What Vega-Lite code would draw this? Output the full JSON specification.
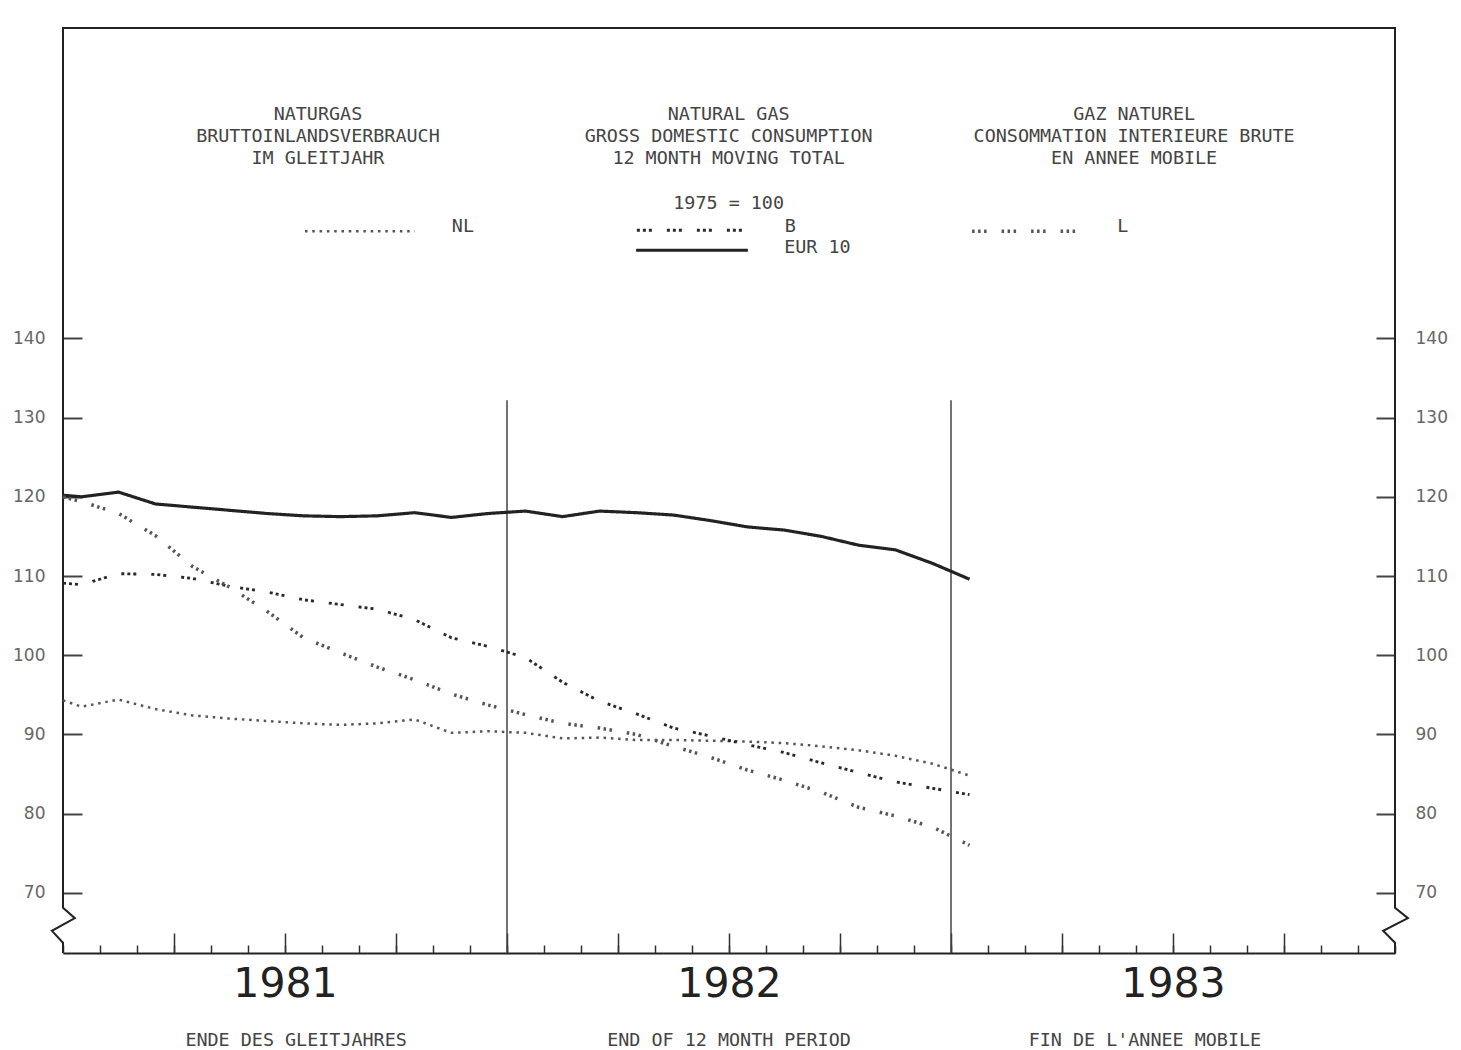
{
  "$schema": "https://vega.github.io/schema/vega-lite/v6.json",
  "width": 1332,
  "height": 925,
  "autosize": {"type": "none"},
  "padding": {"left": 63, "top": 28, "right": 66, "bottom": 97},
  "background": "white",
  "config": {"view": {"stroke": null}, "axis": {"grid": false}},
  "datasets": {
    "frame": [
      {"i": 0, "m": 0, "v": 62.4}, {"i": 1, "m": 0, "v": 63.7}, {"i": 2, "m": -0.3, "v": 65.2},
      {"i": 3, "m": 0.32, "v": 66.8}, {"i": 4, "m": 0, "v": 68.1}, {"i": 5, "m": 0, "v": 179.2},
      {"i": 6, "m": 36, "v": 179.2}, {"i": 7, "m": 36, "v": 68.1}, {"i": 8, "m": 36.35, "v": 66.8},
      {"i": 9, "m": 35.68, "v": 65.2}, {"i": 10, "m": 36, "v": 63.7}, {"i": 11, "m": 36, "v": 62.4}
    ],
    "separators": [{"m": 12}, {"m": 24}],
    "series": [
      {"s": "EUR 10", "m": 0, "v": 120.2}, {"s": "EUR 10", "m": 0.5, "v": 120.0}, {"s": "EUR 10", "m": 1.5, "v": 120.6},
      {"s": "EUR 10", "m": 2.5, "v": 119.1}, {"s": "EUR 10", "m": 3.5, "v": 118.7}, {"s": "EUR 10", "m": 4.5, "v": 118.3},
      {"s": "EUR 10", "m": 5.5, "v": 117.9}, {"s": "EUR 10", "m": 6.5, "v": 117.6}, {"s": "EUR 10", "m": 7.5, "v": 117.5},
      {"s": "EUR 10", "m": 8.5, "v": 117.6}, {"s": "EUR 10", "m": 9.5, "v": 118.0}, {"s": "EUR 10", "m": 10.5, "v": 117.4},
      {"s": "EUR 10", "m": 11.5, "v": 117.9}, {"s": "EUR 10", "m": 12.5, "v": 118.2}, {"s": "EUR 10", "m": 13.5, "v": 117.5},
      {"s": "EUR 10", "m": 14.5, "v": 118.2}, {"s": "EUR 10", "m": 15.5, "v": 118.0}, {"s": "EUR 10", "m": 16.5, "v": 117.7},
      {"s": "EUR 10", "m": 17.5, "v": 117.0}, {"s": "EUR 10", "m": 18.5, "v": 116.2}, {"s": "EUR 10", "m": 19.5, "v": 115.8},
      {"s": "EUR 10", "m": 20.5, "v": 115.0}, {"s": "EUR 10", "m": 21.5, "v": 113.9}, {"s": "EUR 10", "m": 22.5, "v": 113.3},
      {"s": "EUR 10", "m": 23.5, "v": 111.6}, {"s": "EUR 10", "m": 24.5, "v": 109.6},
      {"s": "NL", "m": 0, "v": 94.3}, {"s": "NL", "m": 0.5, "v": 93.5}, {"s": "NL", "m": 1.5, "v": 94.4},
      {"s": "NL", "m": 2.5, "v": 93.2}, {"s": "NL", "m": 3.5, "v": 92.4}, {"s": "NL", "m": 4.5, "v": 92.0},
      {"s": "NL", "m": 5.5, "v": 91.7}, {"s": "NL", "m": 6.5, "v": 91.4}, {"s": "NL", "m": 7.5, "v": 91.2},
      {"s": "NL", "m": 8.5, "v": 91.4}, {"s": "NL", "m": 9.5, "v": 91.9}, {"s": "NL", "m": 10.5, "v": 90.2},
      {"s": "NL", "m": 11.5, "v": 90.4}, {"s": "NL", "m": 12.5, "v": 90.2}, {"s": "NL", "m": 13.5, "v": 89.5},
      {"s": "NL", "m": 14.5, "v": 89.6}, {"s": "NL", "m": 15.5, "v": 89.3}, {"s": "NL", "m": 16.5, "v": 89.3},
      {"s": "NL", "m": 17.5, "v": 89.2}, {"s": "NL", "m": 18.5, "v": 89.1}, {"s": "NL", "m": 19.5, "v": 88.9},
      {"s": "NL", "m": 20.5, "v": 88.5}, {"s": "NL", "m": 21.5, "v": 88.0}, {"s": "NL", "m": 22.5, "v": 87.3},
      {"s": "NL", "m": 23.5, "v": 86.3}, {"s": "NL", "m": 24.5, "v": 84.8},
      {"s": "B", "m": 0, "v": 109.1}, {"s": "B", "m": 0.5, "v": 108.9}, {"s": "B", "m": 1.5, "v": 110.3},
      {"s": "B", "m": 2.5, "v": 110.2}, {"s": "B", "m": 3.5, "v": 109.7}, {"s": "B", "m": 4.5, "v": 108.7},
      {"s": "B", "m": 5.5, "v": 108.0}, {"s": "B", "m": 6.5, "v": 107.0}, {"s": "B", "m": 7.5, "v": 106.4},
      {"s": "B", "m": 8.5, "v": 105.8}, {"s": "B", "m": 9.5, "v": 104.5}, {"s": "B", "m": 10.5, "v": 102.2},
      {"s": "B", "m": 11.5, "v": 101.1}, {"s": "B", "m": 12.5, "v": 99.7}, {"s": "B", "m": 13.5, "v": 96.6},
      {"s": "B", "m": 14.5, "v": 94.2}, {"s": "B", "m": 15.5, "v": 92.6}, {"s": "B", "m": 16.5, "v": 90.8},
      {"s": "B", "m": 17.5, "v": 89.8}, {"s": "B", "m": 18.5, "v": 88.7}, {"s": "B", "m": 19.5, "v": 87.7},
      {"s": "B", "m": 20.5, "v": 86.4}, {"s": "B", "m": 21.5, "v": 85.2}, {"s": "B", "m": 22.5, "v": 84.0},
      {"s": "B", "m": 23.5, "v": 83.2}, {"s": "B", "m": 24.5, "v": 82.4},
      {"s": "L", "m": 0, "v": 120.0}, {"s": "L", "m": 0.5, "v": 119.4}, {"s": "L", "m": 1.5, "v": 117.9},
      {"s": "L", "m": 2.5, "v": 115.1}, {"s": "L", "m": 3.5, "v": 111.2}, {"s": "L", "m": 4.5, "v": 108.6},
      {"s": "L", "m": 5.5, "v": 105.6}, {"s": "L", "m": 6.5, "v": 102.2}, {"s": "L", "m": 7.5, "v": 100.3},
      {"s": "L", "m": 8.5, "v": 98.5}, {"s": "L", "m": 9.5, "v": 96.9}, {"s": "L", "m": 10.5, "v": 95.1},
      {"s": "L", "m": 11.5, "v": 93.7}, {"s": "L", "m": 12.5, "v": 92.5}, {"s": "L", "m": 13.5, "v": 91.4},
      {"s": "L", "m": 14.5, "v": 90.8}, {"s": "L", "m": 15.5, "v": 90.0}, {"s": "L", "m": 16.5, "v": 88.5},
      {"s": "L", "m": 17.5, "v": 87.1}, {"s": "L", "m": 18.5, "v": 85.5}, {"s": "L", "m": 19.5, "v": 84.2},
      {"s": "L", "m": 20.5, "v": 82.7}, {"s": "L", "m": 21.5, "v": 80.8}, {"s": "L", "m": 22.5, "v": 79.7},
      {"s": "L", "m": 23.5, "v": 78.3}, {"s": "L", "m": 24.5, "v": 76.0}
    ],
    "keysamples": [
      {"s": "NL", "m": 6.54, "v": 153.54}, {"s": "NL", "m": 9.51, "v": 153.54},
      {"s": "B", "m": 15.51, "v": 153.66}, {"s": "B", "m": 18.49, "v": 153.66},
      {"s": "EUR 10", "m": 15.49, "v": 151.14}, {"s": "EUR 10", "m": 18.51, "v": 151.14},
      {"s": "L", "m": 24.57, "v": 153.54}, {"s": "L", "m": 27.54, "v": 153.54}
    ],
    "keylabels": [
      {"t": "NL", "m": 10.51, "v": 154.17},
      {"t": "B", "m": 19.51, "v": 154.17},
      {"t": "EUR 10", "m": 19.49, "v": 151.52},
      {"t": "L", "m": 28.49, "v": 154.17}
    ],
    "titles": [
      {"t": "NATURGAS", "m": 6.89, "v": 168.3},
      {"t": "BRUTTOINLANDSVERBRAUCH", "m": 6.89, "v": 165.5},
      {"t": "IM GLEITJAHR", "m": 6.89, "v": 162.75},
      {"t": "NATURAL GAS", "m": 17.99, "v": 168.3},
      {"t": "GROSS DOMESTIC CONSUMPTION", "m": 17.99, "v": 165.5},
      {"t": "12 MONTH MOVING TOTAL", "m": 17.99, "v": 162.75},
      {"t": "1975 = 100", "m": 17.99, "v": 157.07},
      {"t": "GAZ NATUREL", "m": 28.95, "v": 168.3},
      {"t": "CONSOMMATION INTERIEURE BRUTE", "m": 28.95, "v": 165.5},
      {"t": "EN ANNEE MOBILE", "m": 28.95, "v": 162.75},
      {"t": "ENDE DES GLEITJAHRES", "m": 6.3, "v": 51.39},
      {"t": "END OF 12 MONTH PERIOD", "m": 18.0, "v": 51.39},
      {"t": "FIN DE L'ANNEE MOBILE", "m": 29.24, "v": 51.39}
    ]
  },
  "layer": [
    {
      "data": {"name": "frame"},
      "mark": {"type": "line", "stroke": "#222", "strokeWidth": 2, "clip": false},
      "encoding": {
        "x": {"field": "m", "type": "quantitative",
          "scale": {"domain": [0, 36], "nice": false, "zero": false},
          "axis": {"orient": "bottom", "values": [0,1,2,3,4,5,6,7,8,9,10,11,12,13,14,15,16,17,18,19,20,21,22,23,24,25,26,27,28,29,30,31,32,33,34,35,36],
            "tickSize": -8, "tickWidth": 1.5, "tickColor": "#333", "labels": false,
            "domain": true, "domainColor": "#222", "domainWidth": 2, "title": null, "grid": false}},
        "y": {"field": "v", "type": "quantitative",
          "scale": {"domain": [62.4, 179.2], "nice": false, "zero": false},
          "axis": {"orient": "left", "values": [70, 80, 90, 100, 110, 120, 130, 140],
            "tickSize": -19, "tickWidth": 2, "tickColor": "#444", "domain": false,
            "labelPadding": 37, "labelFont": "DejaVu Sans", "labelFontSize": 17, "labelColor": "#666",
            "title": null, "grid": false}},
        "order": {"field": "i", "type": "quantitative"}
      }
    },
    {
      "mark": {"type": "rule", "stroke": "#777", "strokeWidth": 1.5, "strokeDash": [4, 8]},
      "encoding": {
        "y": {"datum": 100, "type": "quantitative", "scale": {"domain": [62.4, 179.2], "nice": false, "zero": false}, "axis": null}
      }
    },
    {
      "data": {"name": "separators"},
      "mark": {"type": "rule", "stroke": "#444", "strokeWidth": 1.5},
      "encoding": {
        "x": {"field": "m", "type": "quantitative", "scale": {"domain": [0, 36], "nice": false, "zero": false}, "axis": null},
        "y": {"datum": 132.2, "type": "quantitative", "scale": {"domain": [62.4, 179.2], "nice": false, "zero": false}, "axis": null},
        "y2": {"datum": 62.4}
      }
    },
    {
      "data": {"name": "series"},
      "mark": {"type": "line", "clip": false},
      "encoding": {
        "x": {"field": "m", "type": "quantitative",
          "scale": {"domain": [0, 36], "nice": false, "zero": false},
          "axis": {"orient": "bottom", "values": [3, 6, 9, 12, 15, 18, 21, 24, 27, 30, 33],
            "tickSize": -20, "tickWidth": 1.5, "tickColor": "#333", "domain": false,
            "labelExpr": "datum.value % 12 == 6 ? '' + (1981 + floor(datum.value / 12)) : ''",
            "labelFont": "DejaVu Sans", "labelFontSize": 41, "labelColor": "#222",
            "labelBaseline": "top", "labelPadding": 31, "labelFlush": false, "labelOverlap": false,
            "title": null, "grid": false}},
        "y": {"field": "v", "type": "quantitative",
          "scale": {"domain": [62.4, 179.2], "nice": false, "zero": false},
          "axis": {"orient": "right", "values": [70, 80, 90, 100, 110, 120, 130, 140],
            "tickSize": -19, "tickWidth": 2, "tickColor": "#444", "domain": false,
            "labelPadding": 39, "labelFont": "DejaVu Sans", "labelFontSize": 17, "labelColor": "#666",
            "title": null, "grid": false}},
        "detail": {"field": "s", "type": "nominal"},
        "strokeDash": {"field": "s", "type": "nominal",
          "scale": {"domain": ["NL", "B", "EUR 10", "L"], "range": [[2.5, 4.8], [3, 3, 3, 3, 3, 15], [1, 0], [2.5, 3.5, 2.5, 3.5, 2.5, 15]]}, "legend": null},
        "strokeWidth": {"field": "s", "type": "nominal",
          "scale": {"domain": ["NL", "B", "EUR 10", "L"], "range": [2.5, 3.5, 2.5, 2.5]}, "legend": null},
        "color": {"field": "s", "type": "nominal",
          "scale": {"domain": ["NL", "B", "EUR 10", "L"], "range": ["#555", "#2a2a2a", "#222", "#555"]}, "legend": null}
      }
    },
    {
      "data": {"name": "keysamples"},
      "mark": {"type": "line", "clip": false},
      "encoding": {
        "x": {"field": "m", "type": "quantitative", "scale": {"domain": [0, 36], "nice": false, "zero": false}, "axis": null},
        "y": {"field": "v", "type": "quantitative", "scale": {"domain": [62.4, 179.2], "nice": false, "zero": false}, "axis": null},
        "detail": {"field": "s", "type": "nominal"},
        "strokeDash": {"field": "s", "type": "nominal",
          "scale": {"domain": ["NL", "B", "EUR 10", "L"], "range": [[2.5, 4.8], [3, 3, 3, 3, 3, 15], [1, 0], [2.5, 3.5, 2.5, 3.5, 2.5, 15]]}, "legend": null},
        "strokeWidth": {"field": "s", "type": "nominal",
          "scale": {"domain": ["NL", "B", "EUR 10", "L"], "range": [2.5, 3.5, 2.5, 2.5]}, "legend": null},
        "color": {"field": "s", "type": "nominal",
          "scale": {"domain": ["NL", "B", "EUR 10", "L"], "range": ["#555", "#2a2a2a", "#222", "#555"]}, "legend": null}
      }
    },
    {
      "data": {"name": "titles"},
      "mark": {"type": "text", "font": "DejaVu Sans Mono", "fontSize": 18.4, "fill": "#444", "align": "center", "baseline": "middle", "clip": false},
      "encoding": {
        "x": {"field": "m", "type": "quantitative", "scale": {"domain": [0, 36], "nice": false, "zero": false}, "axis": null},
        "y": {"field": "v", "type": "quantitative", "scale": {"domain": [62.4, 179.2], "nice": false, "zero": false}, "axis": null},
        "text": {"field": "t", "type": "nominal"}
      }
    },
    {
      "data": {"name": "keylabels"},
      "mark": {"type": "text", "font": "DejaVu Sans Mono", "fontSize": 18.4, "fill": "#444", "align": "left", "baseline": "middle", "clip": false},
      "encoding": {
        "x": {"field": "m", "type": "quantitative", "scale": {"domain": [0, 36], "nice": false, "zero": false}, "axis": null},
        "y": {"field": "v", "type": "quantitative", "scale": {"domain": [62.4, 179.2], "nice": false, "zero": false}, "axis": null},
        "text": {"field": "t", "type": "nominal"}
      }
    }
  ],
  "resolve": {"axis": {"x": "independent", "y": "independent"}}
}
